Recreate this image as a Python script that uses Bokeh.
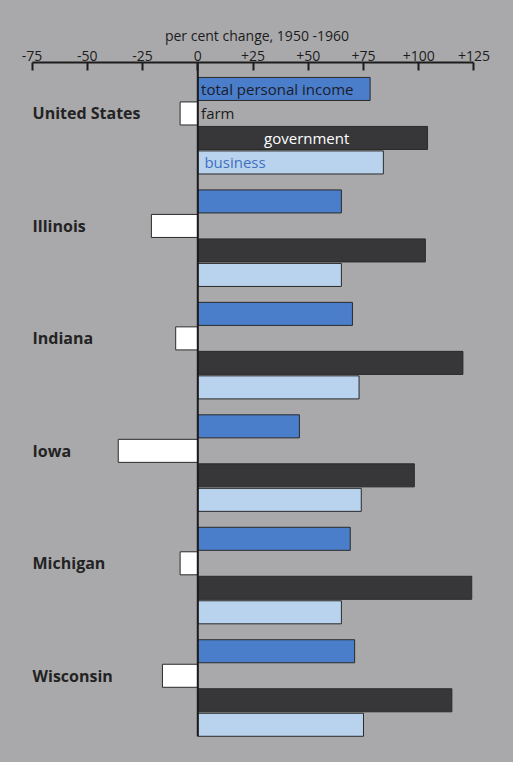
from bokeh.plotting import figure
from bokeh.models import ColumnDataSource, Range1d, FixedTicker
from bokeh.core.properties import value
from bokeh.embed import file_html
from bokeh.resources import INLINE

# ---- data (per cent change, 1950-1960) ----
states = ["United States", "Illinois", "Indiana", "Iowa", "Michigan", "Wisconsin"]
series = ["total personal income", "farm", "government", "business"]
total_income = [78, 65, 70, 46, 69, 71]
farm = [-8, -21, -10, -36, -8, -16]
government = [104, 103, 120, 98, 124, 115]
business = [84, 65, 73, 74, 65, 75]
tick_values = [-75, -50, -25, 0, 25, 50, 75, 100, 125]
tick_labels = ["-75", "-50", "-25", "0", "+25", "+50", "+75", "+100", "+125"]
axis_title = "per cent change, 1950 -1960"

# ---- style ----
BG = "#a9a9ab"
colors = ["#4a7ecb", "#ffffff", "#37373a", "#b9d3ee"]
label_colors = ["#1c1c2a", "#1c1c1c", "#ffffff", "#3f70c0"]
label_x = [1.5, 1.5, 30, 3]
FONT = "Open Sans"
GROUP = 4.59   # slots per state group
H = 0.94       # bar thickness (slots)

values = [total_income, farm, government, business]

p = figure(width=513, height=762, output_backend="svg", toolbar_location=None,
           x_range=Range1d(-89.3, 142.9), y_range=Range1d(27.49, -1.08),
           x_axis_location="above", y_axis_location=None,
           min_border_top=62, min_border_left=0, min_border_right=0, min_border_bottom=0)
p.background_fill_color = None
p.border_fill_color = None
p.styles = {"background-color": BG}
p.outline_line_color = None
p.xgrid.grid_line_color = None
p.ygrid.grid_line_color = None

for j, (name, vals) in enumerate(zip(series, values)):
    ys = [i * GROUP + j for i in range(len(states))]
    src = ColumnDataSource(dict(y=ys, right=vals, left=[0] * len(vals)))
    p.hbar(y="y", left="left", right="right", height=H, source=src,
           fill_color=colors[j], line_color="#2a2a2a", line_width=1)

# in-bar series labels (United States group)
p.text(x=label_x, y=[j for j in range(4)], text=series,
       text_color=label_colors, text_font=value(FONT), text_font_size="15px",
       text_baseline="middle", text_align="left")

# state labels next to the farm row
p.text(x=[-74.8] * len(states), y=[i * GROUP + 1 for i in range(len(states))], text=states,
       text_color="#232323", text_font=value(FONT), text_font_size="16px",
       text_font_style="bold", text_baseline="middle", text_align="left")

# zero line
last = (len(states) - 1) * GROUP + 3 + H / 2
p.segment(x0=[0], y0=[-1.08], x1=[0], y1=[last], line_color="#1a1a1a", line_width=2)

ax = p.xaxis[0]
ax.ticker = FixedTicker(ticks=tick_values)
ax.major_label_overrides = {v: l for v, l in zip(tick_values, tick_labels)}
ax.bounds = (tick_values[0], tick_values[-1])
ax.axis_label = axis_title
ax.axis_label_text_font = FONT
ax.axis_label_text_font_style = "normal"
ax.axis_label_text_font_size = "14px"
ax.axis_label_text_color = "#1c1c1c"
ax.axis_label_standoff = 3
ax.major_label_text_font = FONT
ax.major_label_text_font_size = "14px"
ax.major_label_text_color = "#1c1c1c"
ax.major_label_standoff = 2
ax.axis_line_color = "#1c1c1c"
ax.axis_line_width = 2
ax.major_tick_line_color = "#1c1c1c"
ax.major_tick_line_width = 2
ax.major_tick_in = 8
ax.major_tick_out = 0
ax.minor_tick_line_color = None

open("out.html", "w").write(file_html(p, INLINE))
